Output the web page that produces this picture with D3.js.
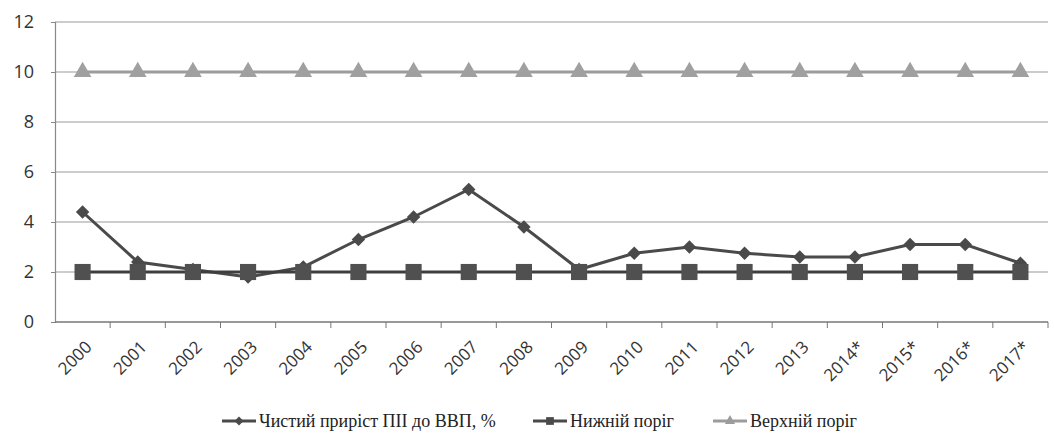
<!DOCTYPE html>
<html>
<head>
<meta charset="utf-8">
<script src="https://cdn.jsdelivr.net/npm/d3@7"></script>
<style>
  body { margin: 0; background: #fff; }
  text { font-family: "Open Sans", "DejaVu Sans", sans-serif; }
</style>
</head>
<body>
<div id="wrapper"></div>
<script>
// data
const years = ["2000", "2001", "2002", "2003", "2004", "2005", "2006", "2007", "2008",
  "2009", "2010", "2011", "2012", "2013", "2014*", "2015*", "2016*", "2017*"]
const netFdi = [4.4, 2.4, 2.1, 1.8, 2.2, 3.3, 4.2, 5.3, 3.8,
  2.1, 2.75, 3.0, 2.75, 2.6, 2.6, 3.1, 3.1, 2.35]
const lowerBound = years.map(() => 2)
const upperBound = years.map(() => 10)
const yTicks = [0, 2, 4, 6, 8, 10, 12]
const seriesNames = ["Чистий приріст ПІІ до ВВП, %", "Нижній поріг", "Верхній поріг"]

const dims = {
  width: 1054,
  height: 444,
  margin: { top: 22, right: 6, bottom: 122, left: 55 }
}
dims.boundedWidth = dims.width - dims.margin.left - dims.margin.right
dims.boundedHeight = dims.height - dims.margin.top - dims.margin.bottom

const svg = d3.select("#wrapper").append("svg")
  .attr("width", dims.width)
  .attr("height", dims.height)

const bounds = svg.append("g")
  .attr("transform", `translate(${dims.margin.left},${dims.margin.top})`)

// scales
const xScale = d3.scaleBand()
  .domain(years)
  .range([0, dims.boundedWidth])

const yScale = d3.scaleLinear()
  .domain([0, 12])
  .range([dims.boundedHeight, 0])

const xPos = d => xScale(d) + xScale.bandwidth() / 2

// gridlines
bounds.append("g")
  .selectAll("line")
  .data(yTicks.filter(t => t > 0))
  .join("line")
  .attr("x1", 0)
  .attr("x2", dims.boundedWidth)
  .attr("y1", d => yScale(d))
  .attr("y2", d => yScale(d))
  .attr("stroke", "#9a9a9a")
  .attr("stroke-width", 1.2)

// y axis
const yAxis = bounds.append("g")
  .call(d3.axisLeft(yScale).tickValues(yTicks).tickSize(4).tickPadding(17))
yAxis.select(".domain").attr("stroke", "#888").attr("stroke-width", 1.2)
yAxis.selectAll(".tick line").attr("stroke", "#888")
yAxis.selectAll(".tick text")
  .attr("fill", "#333")
  .style("font-size", "18px")

// x axis, ticks between categories
const xAxis = bounds.append("g")
  .attr("transform", `translate(0,${dims.boundedHeight})`)
xAxis.append("line")
  .attr("x1", 0).attr("x2", dims.boundedWidth)
  .attr("stroke", "#777").attr("stroke-width", 1.4)
xAxis.selectAll(".xt")
  .data(years)
  .join("line")
  .attr("class", "xt")
  .attr("x1", d => xScale(d) + xScale.bandwidth())
  .attr("x2", d => xScale(d) + xScale.bandwidth())
  .attr("y1", 0).attr("y2", 6)
  .attr("stroke", "#777")
xAxis.selectAll(".xl")
  .data(years)
  .join("text")
  .attr("class", "xl")
  .attr("transform", d => `translate(${xPos(d) + 6},${22}) rotate(-45)`)
  .attr("text-anchor", "end")
  .attr("dy", "0.35em")
  .attr("fill", "#333")
  .style("font-size", "17px")
  .text(d => d)

const line = d3.line()
  .x((d, i) => xPos(years[i]))
  .y(d => yScale(d))

// upper bound
bounds.append("path")
  .datum(upperBound)
  .attr("d", line)
  .attr("fill", "none")
  .attr("stroke", "#9c9c9c")
  .attr("stroke-width", 3)
bounds.selectAll(".tri")
  .data(upperBound)
  .join("path")
  .attr("class", "tri")
  .attr("transform", (d, i) => `translate(${xPos(years[i])},${yScale(d)})`)
  .attr("d", d3.symbol(d3.symbolTriangle, 135))
  .attr("fill", "#a0a0a0")

// main series
bounds.append("path")
  .datum(netFdi)
  .attr("d", line)
  .attr("fill", "none")
  .attr("stroke", "#4a4a4a")
  .attr("stroke-width", 3)
bounds.selectAll(".dia")
  .data(netFdi)
  .join("path")
  .attr("class", "dia")
  .attr("transform", (d, i) => `translate(${xPos(years[i])},${yScale(d)}) rotate(45)`)
  .attr("d", d3.symbol(d3.symbolSquare, 90))
  .attr("fill", "#4a4a4a")

// lower bound
bounds.append("path")
  .datum(lowerBound)
  .attr("d", line)
  .attr("fill", "none")
  .attr("stroke", "#3e3e3e")
  .attr("stroke-width", 3)
bounds.selectAll(".sq")
  .data(lowerBound)
  .join("path")
  .attr("class", "sq")
  .attr("transform", (d, i) => `translate(${xPos(years[i])},${yScale(d)})`)
  .attr("d", d3.symbol(d3.symbolSquare, 260))
  .attr("fill", "#505050")

// legend
const legendItems = [
  { name: seriesNames[0], x: 222, color: "#4a4a4a", sym: d3.symbolSquare, size: 40, rot: 45 },
  { name: seriesNames[1], x: 533, color: "#4a4a4a", sym: d3.symbolSquare, size: 60, rot: 0 },
  { name: seriesNames[2], x: 713, color: "#9c9c9c", sym: d3.symbolTriangle, size: 45, rot: 0 }
]
const legend = svg.append("g").attr("transform", "translate(0,421)")
const li = legend.selectAll("g")
  .data(legendItems)
  .join("g")
  .attr("transform", d => `translate(${d.x},0)`)
li.append("line")
  .attr("x1", 0).attr("x2", 34)
  .attr("stroke", d => d.color)
  .attr("stroke-width", 3)
li.append("path")
  .attr("transform", d => `translate(17,0) rotate(${d.rot})`)
  .attr("d", d => d3.symbol(d.sym, d.size)())
  .attr("fill", d => d.color)
li.append("text")
  .attr("x", 37)
  .attr("dy", "0.35em")
  .attr("fill", "#222")
  .style("font-family", "'Liberation Serif', 'DejaVu Serif', serif")
  .style("font-size", "18px")
  .text(d => d.name)
</script>
</body>
</html>
